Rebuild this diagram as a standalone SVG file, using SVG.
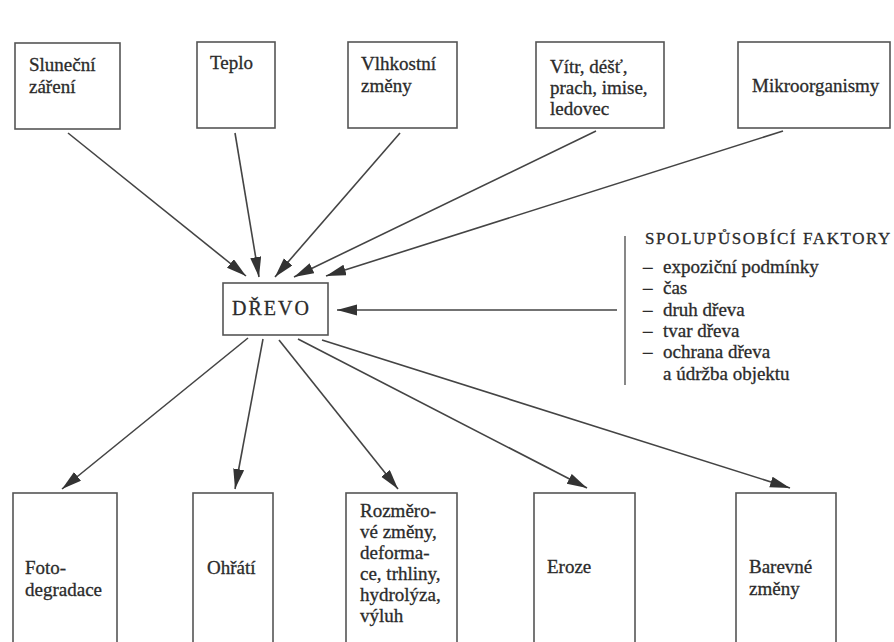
<svg xmlns="http://www.w3.org/2000/svg" width="894" height="642" viewBox="0 0 894 642">
<style>
.box{fill:#fff;stroke:#555;stroke-width:1.6}
text{font-family:"Liberation Serif","Times New Roman",serif;font-size:19px;fill:#2b2b2b;stroke:#2b2b2b;stroke-width:0.3}
.c line{stroke:#444;stroke-width:1.6}
</style>
<defs>
<marker id="ah" markerUnits="userSpaceOnUse" markerWidth="22" markerHeight="12" refX="20" refY="5.5" orient="auto">
<path d="M0,0 L20,5.5 L0,11 Z" fill="#333"/>
</marker>
</defs>
<rect width="894" height="642" fill="#fff"/>
<g id="slunecni"><rect class="box" x="15" y="43" width="105" height="86"/><text x="29" y="71">Sluneční</text><text x="29" y="93">záření</text></g>
<g id="teplo"><rect class="box" x="197" y="42" width="78" height="86"/><text x="210" y="69">Teplo</text></g>
<g id="vlhkostni"><rect class="box" x="348" y="42" width="109" height="86"/><text x="361" y="70">Vlhkostní</text><text x="361" y="92">změny</text></g>
<g id="vitr"><rect class="box" x="536" y="42" width="128" height="86"/><text x="550" y="73">Vítr, déšť,</text><text x="550" y="94">prach, imise,</text><text x="550" y="115">ledovec</text></g>
<g id="mikro"><rect class="box" x="738" y="42" width="152" height="86"/><text x="752" y="92">Mikroorganismy</text></g>
<g id="drevo"><rect class="box" x="223" y="283" width="105" height="52"/><text x="232" y="315" style="font-size:20px;letter-spacing:2px">DŘEVO</text></g>
<g id="faktory">
<line x1="625" y1="236" x2="625" y2="385" stroke="#555" stroke-width="1.4"/>
<text x="645" y="244" style="font-size:17px;letter-spacing:1.6px">SPOLUPŮSOBÍCÍ FAKTORY</text>
<text x="643" y="273">–</text><text x="663" y="273">expoziční podmínky</text>
<text x="643" y="294">–</text><text x="663" y="294">čas</text>
<text x="643" y="316">–</text><text x="663" y="316">druh dřeva</text>
<text x="643" y="337">–</text><text x="663" y="337">tvar dřeva</text>
<text x="643" y="358">–</text><text x="663" y="358">ochrana dřeva</text>
<text x="663" y="380">a údržba objektu</text>
</g>
<g id="foto"><rect class="box" x="13" y="493" width="104" height="170"/><text x="25" y="574">Foto-</text><text x="25" y="596">degradace</text></g>
<g id="ohrati"><rect class="box" x="193" y="493" width="80" height="170"/><text x="207" y="574">Ohřátí</text></g>
<g id="rozmero"><rect class="box" x="346" y="493" width="111" height="170"/><text x="360" y="517">Rozměro-</text><text x="360" y="538">vé změny,</text><text x="360" y="559">deforma-</text><text x="360" y="580">ce, trhliny,</text><text x="360" y="601">hydrolýza,</text><text x="360" y="622">výluh</text></g>
<g id="eroze"><rect class="box" x="534" y="493" width="101" height="170"/><text x="547" y="573">Eroze</text></g>
<g id="barevne"><rect class="box" x="736" y="493" width="100" height="170"/><text x="749" y="573">Barevné</text><text x="749" y="595">změny</text></g>
<g class="c" id="connectors">
<line x1="68" y1="133" x2="246" y2="276" marker-end="url(#ah)"/>
<line x1="235" y1="133" x2="259" y2="277" marker-end="url(#ah)"/>
<line x1="400" y1="133" x2="275" y2="277" marker-end="url(#ah)"/>
<line x1="596" y1="131" x2="294" y2="277" marker-end="url(#ah)"/>
<line x1="783" y1="131" x2="326" y2="276" marker-end="url(#ah)"/>
<line x1="617" y1="310" x2="337" y2="310" marker-end="url(#ah)"/>
<line x1="248" y1="338" x2="62" y2="489" marker-end="url(#ah)"/>
<line x1="263" y1="339" x2="235" y2="489" marker-end="url(#ah)"/>
<line x1="279" y1="340" x2="398" y2="489" marker-end="url(#ah)"/>
<line x1="298" y1="339" x2="587" y2="488" marker-end="url(#ah)"/>
<line x1="322" y1="340" x2="790" y2="488" marker-end="url(#ah)"/>
</g>
</svg>
